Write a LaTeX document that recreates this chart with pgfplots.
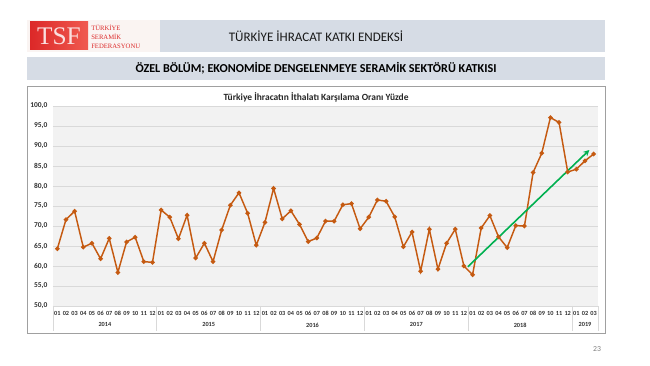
\documentclass[border=0pt]{standalone}
\usepackage{fontspec}
\setmainfont{Carlito}
\newfontfamily\logofont{Liberation Serif}
\usepackage{pgfplots}
\usepackage{pgfplotstable}
\pgfplotsset{compat=1.18}
\usetikzlibrary{arrows.meta}
\definecolor{band}{RGB}{214,220,229}
\definecolor{plotbg}{RGB}{242,242,242}
\definecolor{gridc}{RGB}{217,217,217}
\definecolor{linec}{RGB}{197,90,17}
\definecolor{arrowc}{RGB}{0,176,80}
\definecolor{tickc}{RGB}{50,50,50}
\definecolor{borderc}{RGB}{160,160,160}
\definecolor{sepc}{RGB}{217,217,217}
\definecolor{logored}{RGB}{220,40,40}
\definecolor{logored2}{RGB}{240,90,80}
\definecolor{logobg}{RGB}{250,244,242}

\pgfplotstableread{
v
64.3
71.6
73.7
64.7
65.7
61.8
66.9
58.4
66.0
67.2
61.1
60.9
74.0
72.2
66.8
72.7
62.0
65.7
61.1
69.0
75.2
78.3
73.2
65.2
70.9
79.4
71.8
73.8
70.4
66.1
67.0
71.2
71.2
75.3
75.6
69.3
72.2
76.5
76.2
72.3
64.8
68.5
58.7
69.2
59.2
65.7
69.2
60.0
57.8
69.5
72.6
67.3
64.6
70.1
70.0
83.4
88.2
97.1
95.9
83.5
84.2
86.3
88.0
}\ratio

\begin{document}
\begin{tikzpicture}
\begin{scope}[x=0.75pt,y=-0.75pt]
\path[use as bounding box, fill=white] (0,0) rectangle (650,366);
% header
\fill[logobg] (27,20) rectangle (160,52);
\fill[band] (160,20) rectangle (605,52);
\shade[left color=logored, right color=logored2] (30,22) rectangle (88,50);
\node[text=white!85!logored, font=\logofont\fontsize{19}{19}\selectfont, inner sep=0pt] at (59,36.5) {TSF};
\tikzset{logotxt/.style={anchor=base west, text=logored, inner sep=0pt, text height=3.6pt, text depth=0.2pt, font=\logofont\fontsize{5.0}{6}\selectfont}}
\node[logotxt] at (91,30.5) {TÜRKİYE};
\node[logotxt] at (91,39.5) {SERAMİK};
\node[logotxt] at (91,48.5) {FEDERASYONU};
\node[font=\fontsize{9.8}{11}\selectfont, inner sep=0pt, text=black!90] at (316,36) {TÜRKİYE İHRACAT KATKI ENDEKSİ};
% sub band
\fill[band] (27,57) rectangle (605,80);
\node[font=\bfseries\fontsize{9.1}{10}\selectfont, inner sep=0pt] at (316,68.5) {ÖZEL BÖLÜM; EKONOMİDE DENGELENMEYE SERAMİK SEKTÖRÜ KATKISI};
% chart box
\draw[borderc, line width=0.6pt, fill=white] (27,86) rectangle (605,333);
\node[font=\bfseries\fontsize{7.1}{8}\selectfont, inner sep=0pt, text=black!85] at (316,97) {Türkiye İhracatın İthalatı Karşılama Oranı Yüzde};
\node[text=gray, font=\fontsize{5.8}{6}\selectfont, inner sep=0pt] at (597,349) {23};
\end{scope}

\begin{axis}[
  at={(39.75pt,-229.5pt)}, anchor=south west,
  scale only axis, width=408.75pt, height=150pt,
  xmin=-0.5, xmax=62.5, ymin=50, ymax=100,
  clip=false,
  axis background/.style={fill=plotbg},
  axis line style={draw=none},
  ymajorgrids, grid style={gridc, line width=0.5pt},
  ytick={50,55,...,100},
  xtick={0,...,62},
  xticklabels={01,02,03,04,05,06,07,08,09,10,11,12,
               01,02,03,04,05,06,07,08,09,10,11,12,
               01,02,03,04,05,06,07,08,09,10,11,12,
               01,02,03,04,05,06,07,08,09,10,11,12,
               01,02,03,04,05,06,07,08,09,10,11,12,
               01,02,03},
  major tick length=0pt,
  xticklabel style={font=\bfseries\fontsize{4.7}{5}\selectfont, text=tickc, inner sep=0pt, text height=3.3pt, text depth=0pt, yshift=-3.5pt},
  yticklabel style={font=\bfseries\fontsize{5.6}{6}\selectfont, text=tickc, inner sep=0pt, xshift=-4pt,
     /pgf/number format/.cd, fixed, fixed zerofill, precision=1, use comma, assume math mode=true},
]
\addplot[linec, line width=1.1pt, mark=*, mark size=1.1pt, mark options={fill=linec, draw=linec}]
  table[x expr=\coordindex, y=v] {\ratio};
\addplot[arrowc, line width=1.2pt, -{Stealth[length=4.5pt,width=4.5pt]}]
  coordinates {(47.45,59.8) (61.5,89.0)};
% year separators and labels
\draw[sepc, line width=0.5pt] (axis cs:-0.5,50) -- ([yshift=-19pt]axis cs:-0.5,50);
\draw[sepc, line width=0.5pt] (axis cs:11.5,50) -- ([yshift=-19pt]axis cs:11.5,50);
\draw[sepc, line width=0.5pt] (axis cs:23.5,50) -- ([yshift=-19pt]axis cs:23.5,50);
\draw[sepc, line width=0.5pt] (axis cs:35.5,50) -- ([yshift=-19pt]axis cs:35.5,50);
\draw[sepc, line width=0.5pt] (axis cs:47.5,50) -- ([yshift=-19pt]axis cs:47.5,50);
\draw[sepc, line width=0.5pt] (axis cs:59.5,50) -- ([yshift=-19pt]axis cs:59.5,50);
\draw[sepc, line width=0.5pt] (axis cs:62.5,50) -- ([yshift=-19pt]axis cs:62.5,50);
\tikzset{yearlab/.style={font=\bfseries\fontsize{4.7}{5}\selectfont, text=tickc, inner sep=0pt}}
\node[yearlab] at ([yshift=-14.2pt]axis cs:5.5,50) {2014};
\node[yearlab] at ([yshift=-14.2pt]axis cs:17.5,50) {2015};
\node[yearlab] at ([yshift=-14.2pt]axis cs:29.5,50) {2016};
\node[yearlab] at ([yshift=-14.2pt]axis cs:41.5,50) {2017};
\node[yearlab] at ([yshift=-14.2pt]axis cs:53.5,50) {2018};
\node[yearlab] at ([yshift=-14.2pt]axis cs:61,50) {2019};
\end{axis}
\end{tikzpicture}
\end{document}
